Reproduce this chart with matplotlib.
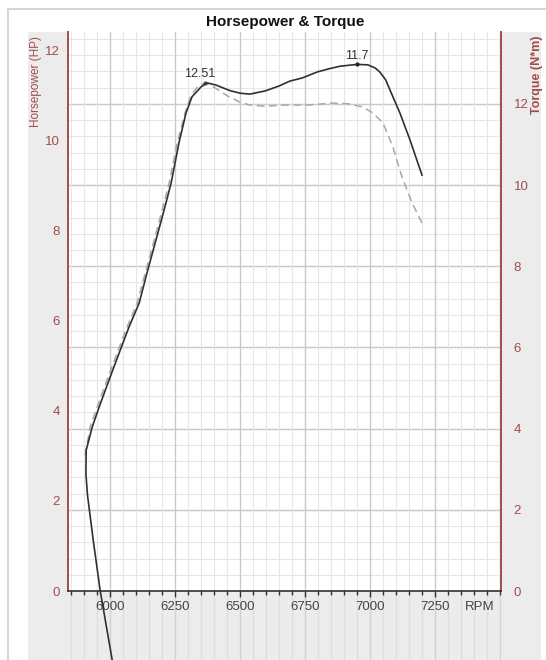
import numpy as np
import matplotlib
matplotlib.use("Agg")
import matplotlib.pyplot as plt
from matplotlib.patches import Rectangle
from matplotlib.lines import Line2D

plt.rcParams['font.family'] = ['Liberation Sans', 'DejaVu Sans']

# horsepower run (solid)
hp_rpm = [6008, 5962, 5935, 5913, 5907, 5908, 5931, 5958, 5996, 6035, 6073, 6112,
          6142, 6169, 6208, 6235, 6265, 6292, 6315, 6350, 6373, 6408, 6460, 6500, 6538,
          6596, 6650, 6692, 6740, 6796, 6840, 6885, 6950, 6992, 7020, 7038, 7060, 7077,
          7115, 7154, 7200]
hp_val = [-1.53, 0.0, 1.13, 2.13, 2.60, 3.13, 3.64, 4.09, 4.69, 5.29, 5.87, 6.40,
          7.07, 7.64, 8.47, 9.07, 9.96, 10.62, 10.98, 11.20, 11.29, 11.24, 11.12, 11.06,
          11.04, 11.11, 11.22, 11.33, 11.40, 11.53, 11.60, 11.66, 11.70, 11.69, 11.62,
          11.53, 11.36, 11.13, 10.62, 10.02, 9.24]

# torque run (dashed)
tq_rpm = [5904, 5923, 5950, 5988, 6027, 6065, 6104, 6135, 6162, 6200, 6227, 6258,
          6288, 6312, 6342, 6365, 6400, 6450, 6500, 6538, 6600, 6665, 6760, 6858, 6920,
          6973, 7010, 7050, 7088, 7123, 7162, 7200]
tq_val = [3.35, 4.04, 4.53, 5.20, 5.86, 6.50, 7.09, 7.83, 8.47, 9.38, 10.05, 11.03,
          11.77, 12.22, 12.46, 12.51, 12.41, 12.20, 12.04, 11.97, 11.94, 11.97, 11.97,
          12.02, 12.00, 11.92, 11.78, 11.53, 10.94, 10.20, 9.56, 9.06]

hp_peak = (6950, 11.7)
tq_peak = (6365, 12.51)

xticks = [6000, 6250, 6500, 6750, 7000, 7250]
hp_ticks = [0, 2, 4, 6, 8, 10, 12]
tq_ticks = [0, 2, 4, 6, 8, 10, 12]

XMIN, XMAX = 5838, 7504
RED = '#a34c4c'
W, H = 546, 660

fig = plt.figure(figsize=(W / 100, H / 100), dpi=100)
fig.patch.set_facecolor('white')

# grey page furniture
fig.add_artist(Rectangle((28 / W, 0), (541 - 28) / W, 1 - 32 / H, transform=fig.transFigure,
                         facecolor='#ececec', edgecolor='none', zorder=-2))
fig.add_artist(Line2D([8 / W, 1], [1 - 9 / H, 1 - 9 / H], transform=fig.transFigure,
                      color='#d6d6d6', lw=1.5, zorder=-3))
fig.add_artist(Line2D([8 / W, 8 / W], [0, 1 - 9 / H], transform=fig.transFigure,
                      color='#d6d6d6', lw=1.5, zorder=-3))

rect = [68 / W, 1 - 591 / H, (501 - 68) / W, (591 - 32) / H]
ax2 = fig.add_axes(rect)          # torque, holds the white face and grid
ax = fig.add_axes(rect, sharex=ax2)  # horsepower on top
ax2.set_zorder(1); ax.set_zorder(2)
ax.patch.set_visible(False)
ax2.set_facecolor('white')
ax2.yaxis.tick_right()

ax.set_xlim(XMIN, XMAX)
ax.set_ylim(0, 12.42)
ax2.set_ylim(0, 13.77)

# grid
for t in np.arange(0, 13.8, 0.4):
    ax2.axhline(t, color='#e6e6e6', lw=0.8, zorder=0)
for t in tq_ticks:
    ax2.axhline(t, color='#c9c9c9', lw=1.0, zorder=0)
for r in np.arange(5850, XMAX, 50):
    ax2.axvline(r, color='#c9c9c9' if r % 250 == 0 else '#e6e6e6',
                lw=1.0 if r % 250 == 0 else 0.8, zorder=0)

ax2.plot(tq_rpm, tq_val, color='#a8a8a8', lw=1.1, ls=(0, (5, 3)), zorder=3)
ax2.plot(*tq_peak, 'o', ms=2, color='#555555', zorder=4)
ax2.annotate('12.51', xy=tq_peak, xytext=(-4, 2), textcoords='offset points',
             ha='center', va='bottom', fontsize=9, color='#333333')

ax.plot(hp_rpm, hp_val, color='#3b2c2c', lw=1.2, clip_on=False, zorder=3)
ax.plot(*hp_peak, 'o', ms=2, color='#222222', zorder=4)
ax.annotate('11.7', xy=hp_peak, xytext=(0, 2), textcoords='offset points',
            ha='center', va='bottom', fontsize=9, color='#333333')

# axes styling
for a in (ax, ax2):
    a.spines['top'].set_visible(False)
ax.spines['right'].set_visible(False)
ax2.spines['left'].set_visible(False)
ax2.spines['bottom'].set_visible(False)
ax.spines['left'].set_color(RED); ax.spines['left'].set_linewidth(1.4)
ax2.spines['right'].set_color(RED); ax2.spines['right'].set_linewidth(1.4)
ax.spines['bottom'].set_color('#333333'); ax.spines['bottom'].set_linewidth(1.2)

ax.set_yticks(hp_ticks)
ax.tick_params(axis='y', length=0, pad=6, labelsize=9.5, labelcolor=RED)
ax2.set_yticks(tq_ticks)
ax2.tick_params(axis='y', length=0, pad=9, labelsize=9.5, labelcolor=RED)
ax2.tick_params(axis='x', bottom=False, labelbottom=False)

ax.set_xticks(xticks)
ax.set_xticks(np.arange(5850, XMAX, 50), minor=True)
ax.tick_params(axis='x', which='major', length=4, width=1, color='#333333',
               pad=3, labelsize=9.5, labelcolor='#444444')
ax.tick_params(axis='x', which='minor', length=3, width=1, color='#333333')
ax.annotate('RPM', xy=(7422, 0), xycoords=('data', 'axes fraction'), xytext=(0, -7),
            textcoords='offset points', ha='center', va='top', fontsize=9.5, color='#444444')

# vertical grid continuing into the grey strip under the chart
axb = fig.add_axes([rect[0], 0, rect[2], rect[1]], sharex=ax2)
axb.set_zorder(0)
axb.axis('off')
for r in np.arange(5850, XMAX, 50):
    axb.axvline(r, color='#d2d2d2' if r % 250 == 0 else '#dedede', lw=1.0)
axb.set_xlim(XMIN, XMAX)

fig.text(285 / W, 1 - 22 / H, 'Horsepower & Torque', ha='center', va='center',
         fontsize=11, fontweight='bold', color='#111111')
fig.text(36 / W, 1 - 36 / H, 'Horsepower (HP)', rotation=90, ha='center', va='top',
         fontsize=8.5, color=RED)
fig.text(537 / W, 1 - 36 / H, 'Torque (N*m)', rotation=90, ha='center', va='top',
         fontsize=9, fontweight='bold', color=RED)

fig.savefig('out.png', dpi=100)
